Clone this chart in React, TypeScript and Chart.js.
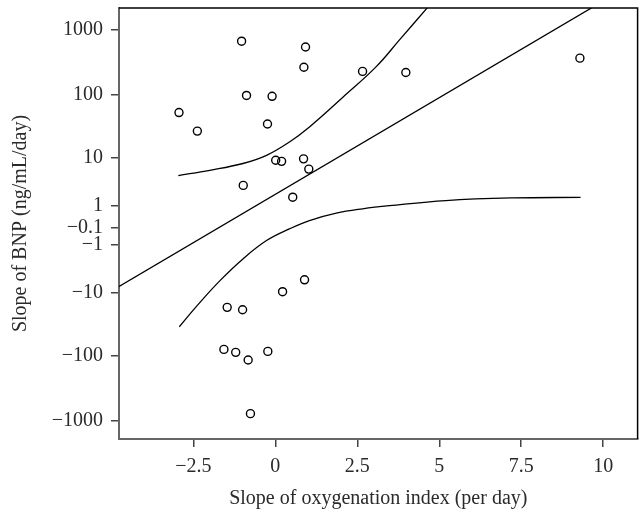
import React, { useEffect, useRef } from "react";
import { Chart, registerables } from "chart.js";

Chart.register(...registerables);

// Observed points (raw units: x = slope of oxygenation index, y = slope of BNP)
const pointX = [-1.03, 0.92, 0.87, 2.66, -0.88, -0.1, -2.94, -2.38, -0.24, 0.01, 0.19, 0.86, 1.02, -0.98, 0.53, 3.98, 9.29,
  0.89, 0.22, -1.47, -1.0, -1.57, -1.21, -0.83, -0.23, -0.76];
const pointY = [675, 549, 268, 231, 98, 95, 53, 27, 35, 9.0, 8.6, 9.5, 6.3, 3.1, 1.7, 222, 370,
  -5.9, -9.5, -17.3, -18.9, -80, -89, -117, -86, -786];

// Regression line endpoints
const fitX = [-5, 10];
const fitY = [-9.2, 2800];

// Upper confidence band
const upperX = [-2.96, -2.0, -0.99, -0.27, 0.43, 1.04, 2.06, 3.07, 3.78, 4.62, 4.8];
const upperY = [4.8, 6.0, 7.9, 10.9, 18.1, 31.5, 92, 271, 700, 2160, 2750];

// Lower confidence band
const lowerX = [-2.93, -2.4, -1.69, -0.99, -0.27, 0.43, 1.04, 1.86, 2.66, 3.48, 5.2, 7.23, 9.31];
const lowerY = [-35.3, -16.5, -6.1, -2.29, -0.72, -0.135, 0.183, 0.535, 0.79, 1.0, 1.4, 1.63, 1.68];

// Tick values and labels
const yTickValues = [1000, 100, 10, 1, -0.1, -1, -10, -100, -1000];
const yTickLabels = ["1000", "100", "10", "1", "\u22120.1", "\u22121", "\u221210", "\u2212100", "\u22121000"];
const xTickValues = [-2.5, 0, 2.5, 5, 7.5, 10];
const xTickLabels = ["\u22122.5", "0", "2.5", "5", "7.5", "10"];

const xTitle = "Slope of oxygenation index (per day)";
const yTitle = "Slope of BNP (ng/mL/day)";

const T = (v: number) => Math.sign(v) * Math.log10(1 + Math.abs(v));

const toXY = (xs: number[], ys: number[]) => xs.map((x, i) => ({ x, y: T(ys[i]) }));

const FONT = "'Liberation Serif', 'Times New Roman', serif";
const TEXT = "#2a2a2a";

export default function App() {
  const ref = useRef<HTMLCanvasElement | null>(null);

  useEffect(() => {
    if (!ref.current) return;
    const frame = {
      id: "frame",
      afterDraw(chart: any) {
        const { ctx, chartArea } = chart;
        ctx.save();
        ctx.strokeStyle = "#000";
        ctx.lineWidth = 1.5;
        ctx.beginPath();
        ctx.moveTo(chartArea.left, chartArea.top);
        ctx.lineTo(chartArea.right, chartArea.top);
        ctx.lineTo(chartArea.right, chartArea.bottom);
        ctx.stroke();
        ctx.restore();
      },
    };
    const lineDs = (data: any, smooth: boolean) => ({
      type: "line" as const,
      data,
      borderColor: "#000",
      borderWidth: 1.3,
      pointRadius: 0,
      fill: false,
      tension: smooth ? 0.4 : 0,
    });
    const chart = new Chart(ref.current, {
      type: "scatter",
      data: {
        datasets: [
          {
            type: "scatter",
            data: toXY(pointX, pointY),
            pointRadius: 4,
            pointBorderWidth: 1.4,
            pointBorderColor: "#000",
            pointBackgroundColor: "rgba(255,255,255,0)",
          } as any,
          lineDs(toXY(fitX, fitY), false),
          lineDs(toXY(upperX, upperY), true),
          lineDs(toXY(lowerX, lowerY), true),
        ],
      },
      options: {
        animation: false,
        responsive: true,
        maintainAspectRatio: false,
        layout: { padding: { top: 8, right: 3, left: 0, bottom: 0 } },
        plugins: { legend: { display: false }, tooltip: { enabled: false } },
        scales: {
          x: {
            type: "linear",
            min: -4.77,
            max: 11.05,
            afterBuildTicks: (s: any) => {
              s.ticks = xTickValues.map((v) => ({ value: v }));
            },
            afterFit: (s: any) => {
              s.height = 74;
              s.paddingLeft = 0;
              s.paddingRight = 0;
            },
            grid: { display: true, drawOnChartArea: false, drawTicks: true, tickLength: 8, color: "#444", lineWidth: 1.5 },
            border: { display: true, color: "#666", width: 2 },
            ticks: {
              autoSkip: false,
              maxRotation: 0,
              padding: 8,
              color: TEXT,
              font: { family: FONT, size: 20 },
              callback: (v: any) => {
                const i = xTickValues.indexOf(Number(v));
                return i >= 0 ? xTickLabels[i] : "";
              },
            },
            title: { display: true, text: xTitle, color: TEXT, font: { family: FONT, size: 20 }, padding: { top: 4, bottom: 2 } },
          },
          y: {
            type: "linear",
            min: -3.286,
            max: 3.34,
            afterBuildTicks: (s: any) => {
              s.ticks = yTickValues.map((v) => ({ value: T(v) }));
            },
            afterFit: (s: any) => {
              s.width = 119;
              s.paddingTop = 0;
              s.paddingBottom = 0;
            },
            grid: { display: true, drawOnChartArea: false, drawTicks: true, tickLength: 8, color: "#444", lineWidth: 1.5 },
            border: { display: true, color: "#666", width: 2 },
            ticks: {
              autoSkip: false,
              padding: 8,
              color: TEXT,
              font: { family: FONT, size: 20 },
              callback: (v: any, i: number) => yTickLabels[i] ?? "",
            },
            title: { display: true, text: yTitle, color: TEXT, font: { family: FONT, size: 20 }, padding: { top: 9, bottom: 4 } },
          },
        },
      },
      plugins: [frame],
    } as any);
    return () => chart.destroy();
  }, []);

  return (
    <div style={{ position: "fixed", left: 0, top: 0, width: 643, height: 513, background: "#fff" }}>
      <canvas ref={ref} />
    </div>
  );
}
